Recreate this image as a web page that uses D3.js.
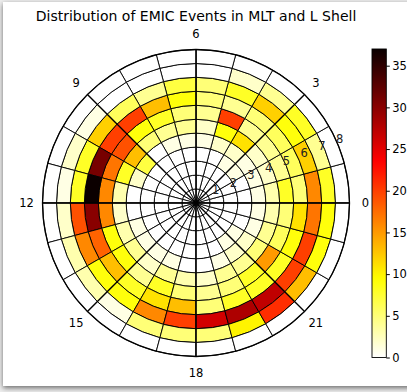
<!DOCTYPE html>
<html>
<head>
<meta charset="utf-8">
<script src="https://cdn.jsdelivr.net/npm/d3@7"></script>
<style>
  html, body { margin: 0; padding: 0; width: 407px; height: 392px; overflow: hidden; background: #ededed; }
  #frame { position: absolute; left: 3px; top: 2px; width: 410px; height: 384px; background: #fff; box-shadow: 0 2px 5px rgba(0,0,0,0.55); }
  svg { position: absolute; left: 0; top: 0; }
</style>
</head>
<body>
<div id="frame"></div>
<svg id="chart" width="407" height="392"></svg>
<script>
// bins: MLT hours (angle) and L shell (radius)
const mltEdges = [0, 1, 2, 3, 4, 5, 6, 7, 8, 9, 10, 11, 12, 13, 14, 15, 16, 17, 18, 19, 20, 21, 22, 23, 24];
const lEdges = [0, 0.73, 1.45, 2.18, 2.91, 3.64, 4.36, 5.09, 5.82, 6.55, 7.27, 8];

// event counts per L ring, one value per MLT hour (0..23)
const ringL0  = [0,0,0,0,0,0,0,0,0,0,0,0,0,0,0,0,0,0,0,0,0,0,0,0];
const ringL1  = [0,0,0,0,0,0,0,0,0,0,0,0,0,0,0,0,0,0,0,0,0,0,0,0];
const ringL2  = [0,0,0,0,0,0,0,0,0,0,0,0,0,0,0,0,0,0,0,0,0,0,0,0];
const ringL3  = [0,0,1,1,0,0,0,0,0,0,0,0,0,0,0,0,0,0,0,0,1,1,0,0];
const ringL4  = [1,1,1,2,2,1,1,1,0,7,2,0,0,1,1,1,1,0,0,1,2,2,1,1];
const ringL5  = [3,2,2,11,9,2,4,4,5,13,8,3,2,3,4,2,4,3,2,4,4,5,4,3];
const ringL6  = [8,4,4,4,20,4,5,8,9,19,17,16,16,9,9,4,8,5,4,5,8,15,6,5];
const ringL7  = [5,6,6,5,4,5,9,13,20,20,31,37,30,18,13,8,11,13,5,8,8,8,9,11];
const ringL8  = [16,12,9,12,8,5,7,4,6,12,8,8,19,16,9,9,16,20,26,28,27,20,20,17];
const ringL9  = [8,4,8,4,2,0,0,0,0,1,2,1,2,3,3,1,5,5,5,10,21,13,9,9];
const ringL10 = [0,0,0,0,0,0,0,0,0,0,0,0,0,0,0,0,0,0,0,0,0,0,0,0];
const rings = [ringL0, ringL1, ringL2, ringL3, ringL4, ringL5, ringL6, ringL7, ringL8, ringL9, ringL10];

const angleTicks = [0, 3, 6, 9, 12, 15, 18, 21];
const radialTicks = [1, 2, 3, 4, 5, 6, 7, 8];
const colorTicks = [0, 5, 10, 15, 20, 25, 30, 35];
const vmax = 37;
const title = "Distribution of EMIC Events in MLT and L Shell";

const cx = 196, cy = 203, R = 153.5;
const font = "DejaVu Sans, sans-serif";

// matplotlib 'hot' reversed
function hotR(f) {
    const t = 1 - f;
    const r = t < 0.365079 ? 0.0416 + (1 - 0.0416) * t / 0.365079 : 1;
    const g = t < 0.365079 ? 0 : (t < 0.746032 ? (t - 0.365079) / (0.746032 - 0.365079) : 1);
    const b = t < 0.746032 ? 0 : (t - 0.746032) / (1 - 0.746032);
    return d3.rgb(r * 255, g * 255, b * 255).formatHex();
}

const rScale = d3.scaleLinear().domain([0, 8]).range([0, R]);
const aScale = d3.scaleLinear().domain([0, 24]).range([0, 2 * Math.PI]); // ccw from east
const color = d3.scaleSequential(hotR).domain([0, vmax]);

const svg = d3.select("#chart");

svg.append("text")
    .attr("x", cx).attr("y", 20.5)
    .attr("text-anchor", "middle")
    .attr("font-family", font).attr("font-size", 14)
    .attr("fill", "#000")
    .text(title);

const g = svg.append("g").attr("transform", `translate(${cx},${cy})`);

// cells
const cells = [];
rings.forEach((vals, k) => {
    vals.forEach((v, h) => cells.push({ k, h, v }));
});

const arc = d3.arc();
g.selectAll("path.cell")
    .data(cells)
    .join("path")
    .attr("class", "cell")
    .attr("d", d => arc({
        innerRadius: rScale(lEdges[d.k]),
        outerRadius: rScale(lEdges[d.k + 1]),
        startAngle: Math.PI / 2 - aScale(mltEdges[d.h + 1]),
        endAngle: Math.PI / 2 - aScale(mltEdges[d.h])
    }))
    .attr("fill", d => color(d.v))
    .attr("stroke", "#000")
    .attr("stroke-width", 0.9);

// angular grid lines
g.selectAll("line.spoke")
    .data(angleTicks)
    .join("line")
    .attr("class", "spoke")
    .attr("x1", 0).attr("y1", 0)
    .attr("x2", d => R * Math.cos(aScale(d)))
    .attr("y2", d => -R * Math.sin(aScale(d)))
    .attr("stroke", "#000")
    .attr("stroke-width", 1.4);

g.append("circle")
    .attr("r", R)
    .attr("fill", "none")
    .attr("stroke", "#000")
    .attr("stroke-width", 1.3);

// MLT labels
g.selectAll("text.mlt")
    .data(angleTicks)
    .join("text")
    .attr("class", "mlt")
    .attr("x", d => (R + 16) * Math.cos(aScale(d)))
    .attr("y", d => -(R + 16) * Math.sin(aScale(d)))
    .attr("text-anchor", "middle")
    .attr("dominant-baseline", "central")
    .attr("font-family", font).attr("font-size", 11.5)
    .attr("fill", "#000")
    .text(d => d);

// L shell labels along 22.5 deg
const rlAngle = 22.5 * Math.PI / 180;
g.selectAll("text.lshell")
    .data(radialTicks)
    .join("text")
    .attr("class", "lshell")
    .attr("x", d => (rScale(d) + 2) * Math.cos(rlAngle))
    .attr("y", d => -(rScale(d) + 2) * Math.sin(rlAngle) - 5)
    .attr("text-anchor", "middle")
    .attr("dominant-baseline", "central")
    .attr("font-family", font).attr("font-size", 11.5)
    .attr("fill", "#222")
    .text(d => d);

// colorbar
const cbX = 372, cbW = 14.3, cbTop = 49, cbBottom = 357.5;
const cbScale = d3.scaleLinear().domain([0, vmax]).range([cbBottom, cbTop]);
const defs = svg.append("defs");
const grad = defs.append("linearGradient")
    .attr("id", "cbgrad")
    .attr("x1", 0).attr("y1", 1).attr("x2", 0).attr("y2", 0);
grad.selectAll("stop")
    .data(d3.range(0, 1.0001, 0.02))
    .join("stop")
    .attr("offset", d => d)
    .attr("stop-color", d => color(d * vmax));

svg.append("rect")
    .attr("x", cbX).attr("y", cbTop)
    .attr("width", cbW).attr("height", cbBottom - cbTop)
    .attr("fill", "url(#cbgrad)")
    .attr("stroke", "#000").attr("stroke-width", 0.9);

const cbAxis = svg.append("g")
    .attr("transform", `translate(${cbX + cbW},0)`)
    .call(d3.axisRight(cbScale).tickValues(colorTicks).tickSize(3.5).tickPadding(2.5));
cbAxis.select(".domain").remove();
cbAxis.selectAll("text").attr("font-family", font).attr("font-size", 11.5).attr("fill", "#000");
cbAxis.selectAll("line").attr("stroke", "#000");
</script>
</body>
</html>
